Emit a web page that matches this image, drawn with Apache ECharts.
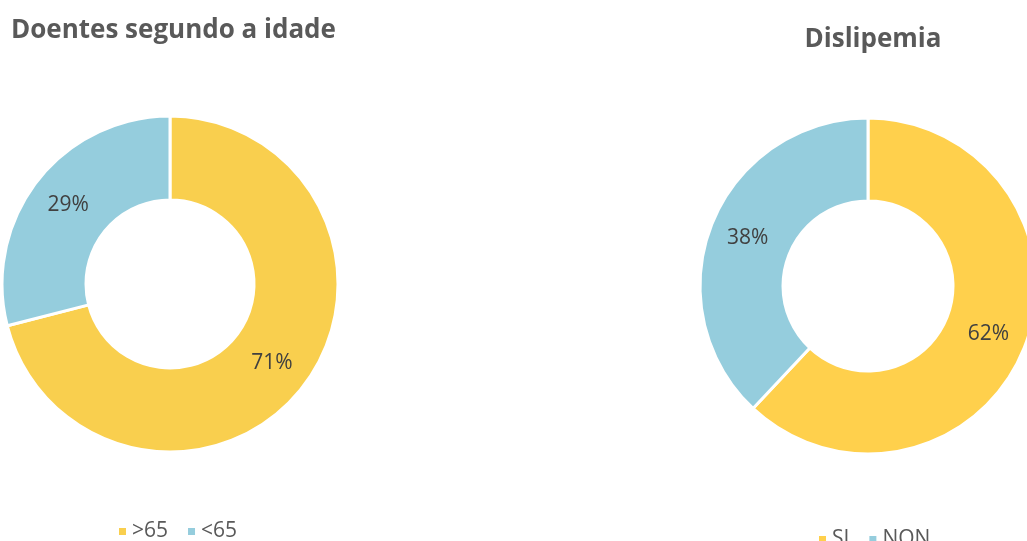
<!DOCTYPE html>
<html>
<head>
<meta charset="UTF-8">
<title>Doentes</title>
<script src="https://cdn.jsdelivr.net/npm/echarts@6/dist/echarts.min.js"></script>
<style>
    html, body { margin: 0; padding: 0; background: #fff; }
    #main { width: 1027px; height: 541px; }
</style>
</head>
<body>
<div id="main"></div>
<script type="text/javascript">
    // idade
    let ageNames = ['>65', '<65'];
    let ageValues = [71, 29];
    // dislipemia
    let dysNames = ['SI', 'NON'];
    let dysValues = [62, 38];

    let colors = ['#F9CF4E', '#95CDDD'];
    let font = 'Open Sans';

    function toData(names, values) {
        let out = [];
        for (let i = 0; i < names.length; i++) {
            out.push({name: names[i], value: values[i]});
        }
        return out;
    }

    let chart = echarts.init(document.getElementById('main'));

    let labelStyle = {
        show: true,
        position: 'inside',
        formatter: '{c}%',
        color: '#404040',
        fontFamily: font,
        fontSize: 21,
        padding: [4, 0, 0, 0]
    };

    let option = {
        backgroundColor: '#fff',
        color: colors,
        animation: false,
        title: [
            {
                text: 'Doentes segundo a idade',
                left: 6,
                top: 13,
                textStyle: {color: '#595959', fontFamily: font, fontWeight: 'bold', fontSize: 26}
            },
            {
                text: 'Dislipemia',
                left: 868,
                textAlign: 'center',
                top: 22,
                textStyle: {color: '#595959', fontFamily: font, fontWeight: 'bold', fontSize: 26}
            }
        ],
        legend: [
            {
                data: ageNames,
                left: 112,
                top: 516,
                icon: 'rect',
                itemWidth: 9,
                itemHeight: 9,
                itemGap: 18,
                textStyle: {color: '#595959', fontFamily: font, fontSize: 21}
            },
            {
                data: dysNames,
                left: 812,
                top: 524,
                icon: 'rect',
                itemWidth: 9,
                itemHeight: 9,
                itemGap: 18,
                textStyle: {color: '#595959', fontFamily: font, fontSize: 21}
            }
        ],
        series: [
            {
                name: 'idade',
                type: 'pie',
                center: [170, 284],
                radius: [84, 168],
                startAngle: 90,
                clockwise: true,
                itemStyle: {borderColor: '#fff', borderWidth: 3},
                label: labelStyle,
                labelLine: {show: false},
                emphasis: {disabled: true},
                data: toData(ageNames, ageValues)
            },
            {
                name: 'Dislipemia',
                type: 'pie',
                center: [868, 286],
                radius: [85, 168],
                startAngle: 90,
                clockwise: true,
                color: ['#FFD04C', '#95CDDD'],
                itemStyle: {borderColor: '#fff', borderWidth: 3},
                label: labelStyle,
                labelLine: {show: false},
                emphasis: {disabled: true},
                data: toData(dysNames, dysValues)
            }
        ]
    };
    chart.setOption(option);
</script>
</body>
</html>
